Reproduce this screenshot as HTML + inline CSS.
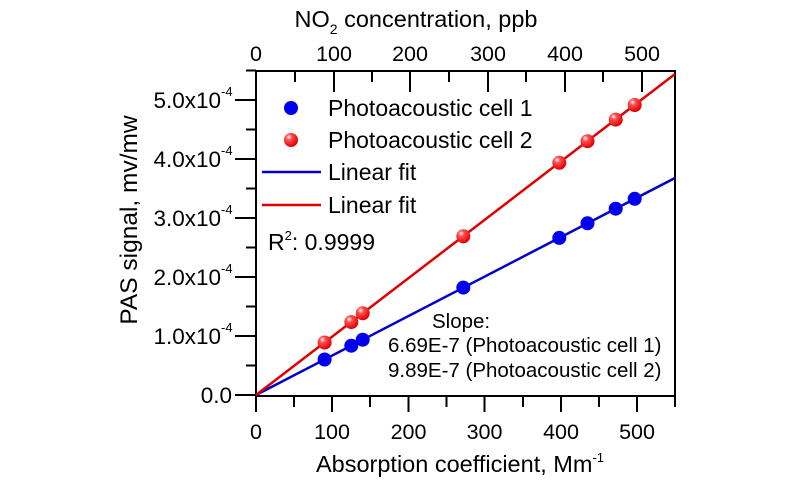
<!DOCTYPE html>
<html><head><meta charset="utf-8"><style>
html,body{margin:0;padding:0;background:#fff;}
svg{display:block;font-family:"Liberation Sans",Arial,sans-serif;}
</style></head><body>
<svg width="800" height="480" viewBox="0 0 800 480" xmlns="http://www.w3.org/2000/svg">
<defs>
<radialGradient id="rg" cx="0.35" cy="0.3" r="0.7">
<stop offset="0" stop-color="#fff"/><stop offset="0.3" stop-color="#ff5050"/><stop offset="1" stop-color="#e00000"/>
</radialGradient>
</defs>
<g stroke="#000" stroke-width="2" fill="none">
<rect x="256" y="71" width="419" height="325"/>
<line x1="235" y1="395" x2="256" y2="395"/><line x1="246" y1="365.5" x2="256" y2="365.5"/>
<line x1="235" y1="336" x2="256" y2="336"/><line x1="246" y1="306.5" x2="256" y2="306.5"/>
<line x1="235" y1="277" x2="256" y2="277"/><line x1="246" y1="247.5" x2="256" y2="247.5"/>
<line x1="235" y1="218" x2="256" y2="218"/><line x1="246" y1="188.5" x2="256" y2="188.5"/>
<line x1="235" y1="159" x2="256" y2="159"/><line x1="246" y1="129.5" x2="256" y2="129.5"/>
<line x1="235" y1="100" x2="256" y2="100"/><line x1="246" y1="70.5" x2="256" y2="70.5"/>
<line x1="256" y1="396" x2="256" y2="412"/><line x1="294" y1="396" x2="294" y2="407"/>
<line x1="332" y1="396" x2="332" y2="412"/><line x1="370" y1="396" x2="370" y2="407"/>
<line x1="408.5" y1="396" x2="408.5" y2="412"/><line x1="446.5" y1="396" x2="446.5" y2="407"/>
<line x1="484.5" y1="396" x2="484.5" y2="412"/><line x1="523" y1="396" x2="523" y2="407"/>
<line x1="561" y1="396" x2="561" y2="412"/><line x1="599" y1="396" x2="599" y2="407"/>
<line x1="637" y1="396" x2="637" y2="412"/><line x1="675" y1="396" x2="675" y2="407"/>
<line x1="256" y1="71" x2="256" y2="92"/><line x1="295" y1="71" x2="295" y2="82"/>
<line x1="334" y1="71" x2="334" y2="92"/><line x1="372" y1="71" x2="372" y2="82"/>
<line x1="410" y1="71" x2="410" y2="92"/><line x1="449" y1="71" x2="449" y2="82"/>
<line x1="488" y1="71" x2="488" y2="92"/><line x1="526" y1="71" x2="526" y2="82"/>
<line x1="565" y1="71" x2="565" y2="92"/><line x1="603" y1="71" x2="603" y2="82"/>
<line x1="642" y1="71" x2="642" y2="92"/>
</g>
<line x1="256" y1="395" x2="675" y2="178" stroke="#0000cc" stroke-width="2.5"/>
<line x1="256" y1="395" x2="675" y2="74" stroke="#e00000" stroke-width="2.5"/>
<g fill="#0000ee">
<circle cx="324.6" cy="359.5" r="7"/><circle cx="351.3" cy="345.7" r="7"/><circle cx="362.7" cy="339.7" r="7"/>
<circle cx="463.3" cy="287.6" r="7"/><circle cx="559.3" cy="237.9" r="7"/><circle cx="587.5" cy="223.3" r="7"/>
<circle cx="615.7" cy="208.7" r="7"/><circle cx="634.7" cy="198.8" r="7"/>
</g>
<g fill="url(#rg)">
<circle cx="324.6" cy="342.5" r="7"/><circle cx="351.3" cy="322.1" r="7"/><circle cx="362.7" cy="313.3" r="7"/>
<circle cx="463.3" cy="236.3" r="7"/><circle cx="559.3" cy="162.8" r="7"/><circle cx="587.5" cy="141.2" r="7"/>
<circle cx="615.7" cy="119.6" r="7"/><circle cx="634.7" cy="105.0" r="7"/>
</g>
<circle cx="291" cy="108" r="7" fill="#0000ee"/>
<circle cx="291" cy="140" r="7" fill="url(#rg)"/>
<line x1="262" y1="172" x2="321" y2="172" stroke="#0000cc" stroke-width="2.5"/>
<line x1="262" y1="205" x2="321" y2="205" stroke="#e00000" stroke-width="2.5"/>
<g font-size="23" fill="#000">
<text x="328" y="116">Photoacoustic cell 1</text>
<text x="328" y="148">Photoacoustic cell 2</text>
<text x="328" y="180">Linear fit</text>
<text x="328" y="213">Linear fit</text>
<text x="268" y="250">R<tspan font-size="13" dy="-10">2</tspan><tspan dy="10">: 0.9999</tspan></text>
</g>
<g font-size="20.5" fill="#000">
<text x="432" y="328">Slope:</text>
<text x="388" y="352">6.69E-7 (Photoacoustic cell 1)</text>
<text x="388" y="377">9.89E-7 (Photoacoustic cell 2)</text>
</g>
<g font-size="22.5" fill="#000" text-anchor="end">
<text x="232" y="403">0.0</text>
<text x="221" y="344">1.0x10</text><text x="221" y="285">2.0x10</text><text x="221" y="226">3.0x10</text>
<text x="221" y="167">4.0x10</text><text x="221" y="108">5.0x10</text>
</g>
<g font-size="13" fill="#000">
<text x="221" y="332">-4</text><text x="221" y="273">-4</text><text x="221" y="214">-4</text>
<text x="221" y="155">-4</text><text x="221" y="96">-4</text>
</g>
<g font-size="21.5" fill="#000" text-anchor="middle">
<text x="256" y="439">0</text><text x="332" y="439">100</text><text x="408.5" y="439">200</text>
<text x="484.5" y="439">300</text><text x="561" y="439">400</text><text x="637" y="439">500</text>
<text x="256" y="61">0</text><text x="334" y="61">100</text><text x="410" y="61">200</text>
<text x="488" y="61">300</text><text x="565" y="61">400</text><text x="642" y="61">500</text>
</g>
<g font-size="23.5" fill="#000">
<text x="460" y="472" text-anchor="middle">Absorption coefficient, Mm<tspan font-size="13" dy="-10">-1</tspan></text>
<text x="416" y="27" text-anchor="middle">NO<tspan font-size="14" dy="7">2</tspan><tspan dy="-7"> concentration, ppb</tspan></text>
<text transform="translate(137,220) rotate(-90)" text-anchor="middle" font-size="24.5">PAS signal, mv/mw</text>
</g>
</svg>
</body></html>
